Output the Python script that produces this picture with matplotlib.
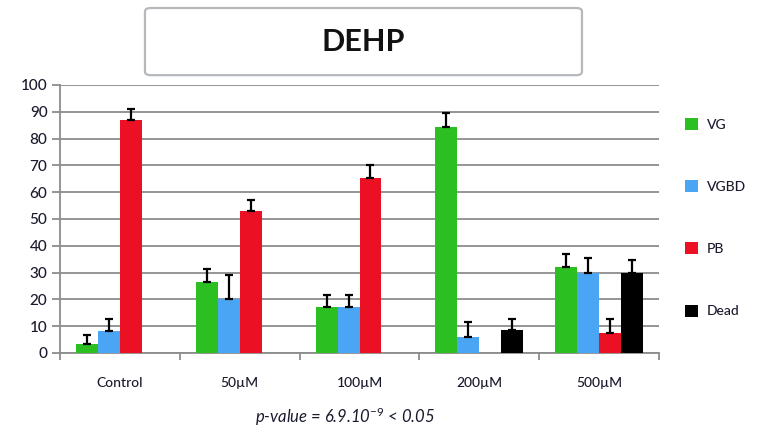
import matplotlib
matplotlib.use("Agg")
import matplotlib.pyplot as plt
from matplotlib.patches import FancyBboxPatch
import numpy as np

plt.rcParams['font.family'] = ['Lato', 'DejaVu Sans']
plt.rcParams['mathtext.fontset'] = 'custom'
plt.rcParams['mathtext.rm'] = 'Lato'
plt.rcParams['mathtext.it'] = 'Lato:italic'

# percentages per treatment group
groups = ['Control', '50µM', '100µM', '200µM', '500µM']
series = ['VG', 'VGBD', 'PB', 'Dead']
vg = [3.5, 26.5, 17.0, 84.5, 32.0]
vgbd = [8.1, 20.0, 17.3, 5.8, 30.0]
pb = [87.0, 53.0, 65.2, 0, 7.6]
dead = [0, 0, 0, 8.5, 29.8]
vg_err = [3.1, 5.0, 4.5, 5.0, 5.1]
vgbd_err = [4.4, 9.0, 4.2, 5.8, 5.5]
pb_err = [4.0, 4.0, 5.0, 0, 4.9]
dead_err = [0, 0, 0, 4.0, 4.8]

colors = ['#2bbf22', '#4aa5f4', '#ec1024', '#000000']
text_c = '#1a1a2e'

fig = plt.figure(figsize=(7.57, 4.32), dpi=100)
ax = fig.add_axes([0.0793, 0.1829, 0.7913, 0.6204])

x = np.arange(len(groups))
w = 0.183
values = [vg, vgbd, pb, dead]
errors = [vg_err, vgbd_err, pb_err, dead_err]
for i, (name, vals, errs, c) in enumerate(zip(series, values, errors, colors)):
    pos = x + (i - 1.5) * w
    ax.bar(pos, vals, width=w, color=c, label=name, zorder=3)
    shown = [j for j, e in enumerate(errs) if e > 0]
    ax.errorbar(pos[shown], np.array(vals)[shown],
                yerr=[np.zeros(len(shown)), np.array(errs)[shown]],
                fmt='none', ecolor='black', elinewidth=1.6, capsize=3,
                capthick=1.6, zorder=4)

ax.set_xlim(-0.5, len(groups) - 0.5)
ax.set_ylim(0, 100)
ax.set_yticks(range(0, 101, 10))
ax.yaxis.grid(True, color='#8c8c8c', linewidth=1.3, zorder=0)
ax.set_axisbelow(True)
for side in ['top', 'right']:
    ax.spines[side].set_visible(False)
for side in ['left', 'bottom']:
    ax.spines[side].set_color('#8c8c8c')
    ax.spines[side].set_linewidth(1.3)

ax.set_xticks(x)
ax.set_xticklabels(groups, fontsize=10, color=text_c, fontweight='medium')
ax.tick_params(axis='x', length=0, pad=17)
ax.set_xticks(np.arange(len(groups) + 1) - 0.5, minor=True)
ax.tick_params(axis='x', which='minor', length=5, width=1.3, color='#8c8c8c')
ax.tick_params(axis='y', length=6, width=1.3, color='#8c8c8c',
               labelsize=11, labelcolor=text_c, pad=3)
for lab in ax.get_yticklabels():
    lab.set_fontweight('medium')

leg = fig.legend(loc='upper left', bbox_to_anchor=(0.905, 0.727),
                 frameon=False, fontsize=10, handlelength=0.95,
                 handleheight=0.95, handletextpad=0.6, labelspacing=3.56,
                 borderpad=0, borderaxespad=0)
for t in leg.get_texts():
    t.set_color(text_c)
    t.set_fontweight('medium')

# title box
box = FancyBboxPatch((0.1915, 0.826), 0.5773, 0.1555,
                     boxstyle='round,pad=0,rounding_size=0.008',
                     transform=fig.transFigure, facecolor='white',
                     edgecolor='#b5b9bd', linewidth=1.6)
fig.patches.append(box)
fig.text(0.4802, 0.902, 'DEHP', ha='center', va='center',
         fontsize=22, fontweight='bold', color='#111111')

fig.text(0.456, 0.035, r'$p$-value = 6.9.10$^{-9}$ < 0.05', ha='center',
         va='center', fontsize=12, style='italic', color=text_c)

fig.savefig('out.png', dpi=100)
